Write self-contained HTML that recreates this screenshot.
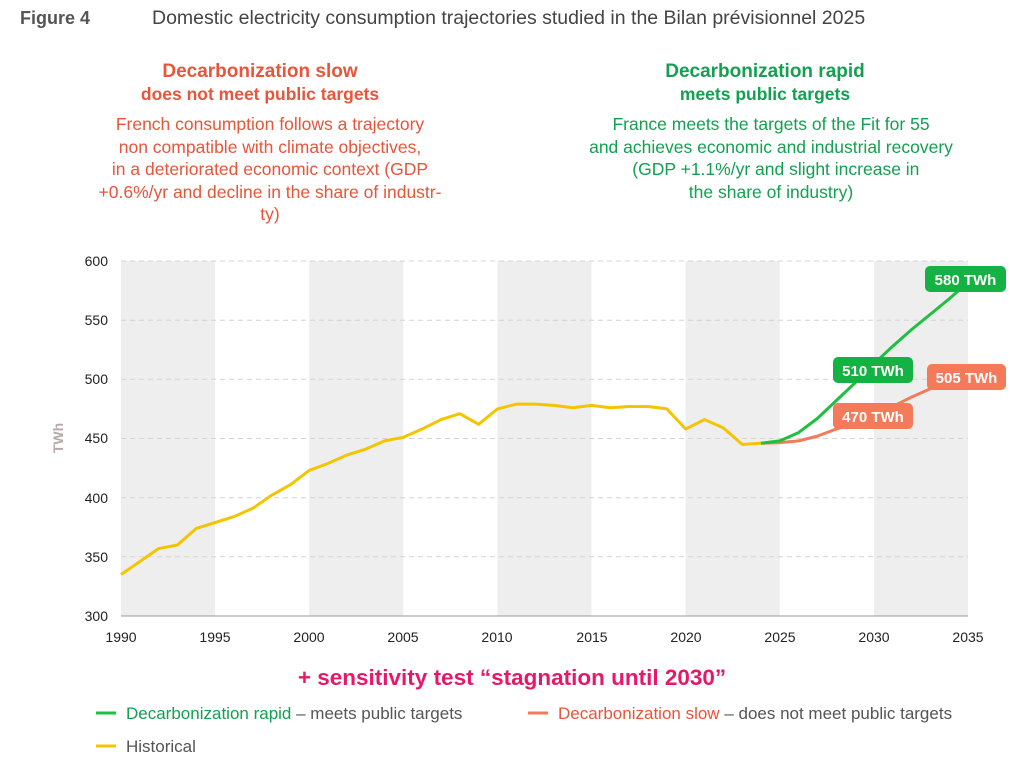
<!DOCTYPE html><html><head><meta charset="utf-8"><style>
body{margin:0;width:1024px;height:774px;background:#fff;font-family:"Liberation Sans",sans-serif;overflow:hidden;position:relative}
.t{position:absolute;white-space:nowrap}
.c{position:absolute;text-align:center;line-height:22.5px;white-space:nowrap}
</style></head><body>
<div class="t" style="left:20px;top:8px;font-size:18px;font-weight:bold;color:#555">Figure 4</div>
<div class="t" style="left:152px;top:7px;font-size:19.5px;color:#444">Domestic electricity consumption trajectories studied in the Bilan prévisionnel 2025</div>
<div class="c" style="left:60px;width:400px;top:61px;font-size:19px;font-weight:bold;color:#e8553a;line-height:22px">Decarbonization slow<br><span style="font-size:17.5px">does not meet public targets</span></div>
<div class="c" style="left:55px;width:430px;top:113px;font-size:17.5px;color:#e8553a">French consumption follows a trajectory<br>non compatible with climate objectives,<br>in a deteriorated economic context (GDP<br>+0.6%/yr and decline in the share of industr-<br>ty)</div>
<div class="c" style="left:565px;width:400px;top:61px;font-size:19px;font-weight:bold;color:#13a050;line-height:22px">Decarbonization rapid<br><span style="font-size:17.5px">meets public targets</span></div>
<div class="c" style="left:556px;width:430px;top:113px;font-size:17.5px;color:#13a050">France meets the targets of the Fit for 55<br>and achieves economic and industrial recovery<br>&nbsp;&nbsp;(GDP +1.1%/yr and slight increase in<br>the share of industry)</div>
<svg style="position:absolute;left:0;top:0" width="1024" height="774">
<g fill="#efeeef">
<rect x="121" y="261" width="94.1" height="355"/><rect x="309.2" y="261" width="94.1" height="355"/><rect x="497.4" y="261" width="94.1" height="355"/><rect x="685.6" y="261" width="94.1" height="355"/><rect x="873.9" y="261" width="94.1" height="355"/>
</g>
<g stroke="#d4d4d4" stroke-dasharray="5,4">
<line x1="121" x2="968" y1="261" y2="261"/><line x1="121" x2="968" y1="320.2" y2="320.2"/><line x1="121" x2="968" y1="379.3" y2="379.3"/><line x1="121" x2="968" y1="438.5" y2="438.5"/><line x1="121" x2="968" y1="497.7" y2="497.7"/><line x1="121" x2="968" y1="556.8" y2="556.8"/>
</g>
<line x1="121" x2="968" y1="616" y2="616" stroke="#999"/>
<g font-size="14" fill="#222" text-anchor="end">
<text x="108" y="266">600</text><text x="108" y="325">550</text><text x="108" y="384">500</text><text x="108" y="443">450</text><text x="108" y="503">400</text><text x="108" y="562">350</text><text x="108" y="621">300</text>
</g>
<g font-size="14" fill="#222" text-anchor="middle">
<text x="121" y="642">1990</text><text x="215" y="642">1995</text><text x="309" y="642">2000</text><text x="403" y="642">2005</text><text x="497" y="642">2010</text><text x="592" y="642">2015</text><text x="686" y="642">2020</text><text x="780" y="642">2025</text><text x="874" y="642">2030</text><text x="968" y="642">2035</text>
</g>
<text transform="translate(63,438) rotate(-90)" text-anchor="middle" font-size="14" font-weight="bold" fill="#b8a8a8">TWh</text>
<g transform="translate(121,261) scale(18.822,-1.1833) translate(-1990,-600)" fill="none" stroke-width="3" stroke-linejoin="round">
<polyline vector-effect="non-scaling-stroke" stroke="#f5c400" points="1990,335 1991,346 1992,357 1993,360 1994,374 1995,379 1996,384 1997,391 1998,402 1999,411 2000,423 2001,429 2002,436 2003,441 2004,448 2005,451 2006,458 2007,466 2008,471 2009,462 2010,475 2011,479 2012,479 2013,478 2014,476 2015,478 2016,476 2017,477 2018,477 2019,475 2020,458 2021,466 2022,459 2023,445 2024,446"/>
<polyline vector-effect="non-scaling-stroke" stroke="#f47a5a" points="2024,446 2025,446.5 2026,448 2027,452 2028,458 2029,463 2030,470 2031,477 2032,485 2033,492"/>
<polyline vector-effect="non-scaling-stroke" stroke="#1fbf3f" points="2024,446 2025,448 2026,455 2027,467 2028,482 2029,497 2030,513 2031,528 2032,542 2033,555 2034,568 2035,582"/>
</g>
<g font-size="15" font-weight="bold" fill="#fff" text-anchor="middle">
<rect x="925" y="266" width="81" height="26" rx="5" fill="#13b243"/><text x="965.5" y="285">580 TWh</text>
<rect x="833" y="357" width="80" height="26" rx="5" fill="#13b243"/><text x="873" y="376">510 TWh</text>
<rect x="927" y="364" width="79" height="26" rx="5" fill="#f47a5a"/><text x="966.5" y="383">505 TWh</text>
<rect x="833" y="403" width="80" height="26" rx="5" fill="#f47a5a"/><text x="873" y="422">470 TWh</text>
</g>
<text x="512" y="685" text-anchor="middle" font-size="22.5" font-weight="bold" fill="#e6186a">+ sensitivity test “stagnation until 2030”</text>
<g font-size="17" fill="#555">
<line x1="96" x2="116" y1="713" y2="713" stroke="#1fbf3f" stroke-width="3"/><text x="126" y="719"><tspan fill="#13a050">Decarbonization rapid</tspan> – meets public targets</text>
<line x1="528" x2="548" y1="713" y2="713" stroke="#f47a5a" stroke-width="3"/><text x="558" y="719"><tspan fill="#e8553a">Decarbonization slow</tspan> – does not meet public targets</text>
<line x1="96" x2="116" y1="746" y2="746" stroke="#f5c400" stroke-width="3"/><text x="126" y="752">Historical</text>
</g>
</svg>
</body></html>
